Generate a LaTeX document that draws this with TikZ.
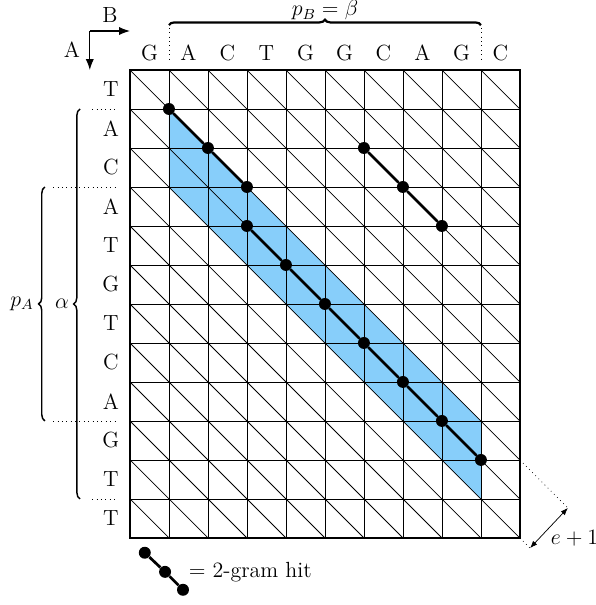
\documentclass[tikz,border=0pt]{standalone}
\usepackage{amsmath,amssymb}
\usetikzlibrary{arrows.meta,positioning,calc,decorations.pathreplacing}
\definecolor{bandblue}{RGB}{135,206,250}

\begin{document}
\begin{tikzpicture}[x=0.75cm, y=0.75cm,
    base/.style={inner sep=0pt, font=\large},
    hit/.style={circle, fill=black, inner sep=0pt, minimum size=0.23cm},
    chain/.style={line width=1.5pt},
    arr/.style={-{Latex[length=6pt]}, semithick},
    brc/.style={decorate, decoration={brace, amplitude=3.5pt}, thick},
    guide/.style={dotted, thin}
]
\useasboundingbox (-3.333,1.795) rectangle (11.95,-13.72);

% band
\fill[bandblue] (1,-1) -- (9,-9) -- (9,-11) -- (1,-3) -- cycle;

% grid
\foreach \i in {1,...,9}
  \draw[thin] (\i,0) -- (\i,-12);
\foreach \j in {1,...,11}
  \draw[thin] (0,-\j) -- (10,-\j);
\begin{scope}
  \clip (0,0) rectangle (10,-12);
  \foreach \k in {-12,...,9}
    \draw[thin] (\k,0) -- ++(12,-12);
\end{scope}
\draw[thick] (0,0) rectangle (10,-12);

% sequences
\foreach \l [count=\i from 0] in {G,A,C,T,G,G,C,A,G,C}
  \node[base] (b\i) at (\i+0.5,0.44) {\l};
\foreach \l [count=\i from 0] in {T,A,C,A,T,G,T,C,A,G,T,T}
  \node[base] (a\i) at (-0.49,-\i-0.5) {\l};

% direction
\coordinate (corner) at (-1.03,1);
\coordinate (endB) at (0,1);
\coordinate (endA) at (-1.03,0);
\draw[arr] (corner) -- (endB);
\draw[arr] (corner) -- (endA);
\node[base] (lblB) at (-0.51,1.41) {B};
\node[base] (lblA) at (-1.49,0.51) {A};

% hits
\foreach \x/\y [count=\n from 0] in {1/1,2/2,3/3,3/4,4/5,5/6,6/7,7/8,8/9,9/10}
  \node[hit] (m\n) at (\x,-\y) {};
\foreach \x/\y [count=\n from 0] in {6/2,7/3,8/4}
  \node[hit] (s\n) at (\x,-\y) {};
\draw[chain] (m0) -- (m1) -- (m2);
\draw[chain] (m3) -- (m4) -- (m5) -- (m6) -- (m7) -- (m8) -- (m9);
\draw[chain] (s0) -- (s1) -- (s2);

% beta
\coordinate (bL) at (1,1.15);
\coordinate (bR) at (9,1.15);
\draw[guide] (1,1.08) -- (1,0.26);
\draw[guide] (9,1.08) -- (9,0.26);
\draw[brc, very thick, decoration={amplitude=3pt}] (bL) -- (bR);
\node[base, anchor=base] (pB) at (5,1.39) {$p_B=\beta$};

% alpha
\draw[guide] (-0.97,-1) -- (-0.31,-1);
\draw[guide] (-0.97,-11) -- (-0.31,-11);
\coordinate (aB) at (-1.28,-11);
\coordinate (aT) at (-1.28,-1);
\draw[brc] (aB) -- (aT);
\node[base] (al) at (-1.74,-6) {$\alpha$};

% p_A
\draw[guide] (-1.97,-3) -- (-0.31,-3);
\draw[guide] (-1.97,-9) -- (-0.31,-9);
\coordinate (pAB) at (-2.18,-9);
\coordinate (pAT) at (-2.18,-3);
\draw[brc] (pAB) -- (pAT);
\node[base] (pA) at (-2.77,-6) {$p_A$};

% e+1
\coordinate (d1) at (10,-10);
\coordinate (d2) at (10,-12);
\coordinate (e1) at (11.23,-11.23);
\coordinate (e2) at (10.26,-12.26);
\draw[guide] (d1) -- (e1);
\draw[guide] (d2) -- (e2);
\draw[{Latex[length=4pt]}-{Latex[length=4pt]}, thin] (e2) -- (e1);
\node[base] (eps) at (11.4,-12) {$e+1$};

% legend
\node[hit] (k0) at (0.38,-12.38) {};
\node[hit] (k1) at (0.9,-12.87) {};
\node[hit] (k2) at (1.36,-13.33) {};
\draw[chain] (k0) -- (k1) -- (k2);
\node[base, anchor=west] (key) at (1.5,-12.87) {$=$ 2-gram hit};
\end{tikzpicture}
\end{document}
